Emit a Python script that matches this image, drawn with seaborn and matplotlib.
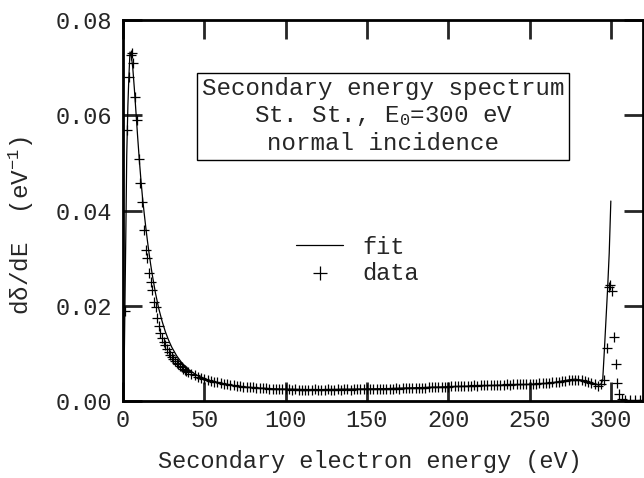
import numpy as np
import pandas as pd
import matplotlib
matplotlib.use("Agg")
import matplotlib.pyplot as plt
import seaborn as sns

# fit curve (eV, 1/eV)
fit_energy = [0, 0.6, 1.2, 1.8, 2.3, 3, 3.6, 4.3, 5, 6, 7, 8, 9, 10, 11, 12, 13, 14, 15,
              16, 17, 18, 20, 22, 24, 26, 28, 30, 33, 36, 40, 45, 50, 55, 60, 70, 80,
              90, 100, 120, 140, 160, 180, 200, 220, 240, 250, 260, 265, 270, 275, 278,
              282, 286, 290, 293, 294, 295, 296, 297, 298, 299, 300]
fit_value = [0.0, 0.004, 0.0206, 0.037, 0.0517, 0.062, 0.068, 0.0733, 0.0728, 0.0700,
             0.0655, 0.0605, 0.0555, 0.0508, 0.0465, 0.0427, 0.0395, 0.0365, 0.0337,
             0.0311, 0.0287, 0.0265, 0.0226, 0.0194, 0.0168, 0.0146, 0.0128, 0.0113,
             0.0095, 0.0081, 0.0067, 0.0055, 0.0047, 0.0041, 0.0037, 0.0031, 0.0028,
             0.0026, 0.0025, 0.0024, 0.0025, 0.0026, 0.0028, 0.0030, 0.0032, 0.0034,
             0.0035, 0.0037, 0.0039, 0.0042, 0.0045, 0.0046, 0.0044, 0.0040, 0.0035,
             0.0034, 0.0036, 0.0044, 0.0105, 0.0170, 0.0235, 0.0310, 0.0420]

# measured points, low energy part
low_energy = [1.2, 2.5, 3.7, 4.9, 5.5, 6.1, 7.4, 8.6, 9.6, 10.6, 11.6, 13, 14, 15, 16,
              17, 18, 19, 20, 21, 22, 23, 24, 25, 26, 27, 28, 29, 30, 31, 32, 33, 34,
              35, 36, 37, 38, 39, 40, 42, 44, 46, 48, 50]
low_value = [0.019, 0.057, 0.068, 0.0727, 0.0730, 0.0710, 0.0638, 0.0590, 0.0508,
             0.0457, 0.0418, 0.0359, 0.0317, 0.0300, 0.0269, 0.0250, 0.0233, 0.0208,
             0.0197, 0.0175, 0.0158, 0.0143, 0.0133, 0.0124, 0.0117, 0.0110, 0.0103,
             0.0097, 0.0092, 0.0088, 0.0084, 0.0080, 0.0077, 0.0074, 0.0071, 0.0068,
             0.0066, 0.0063, 0.0061, 0.0057, 0.0054, 0.0051, 0.0048, 0.0046]

# measured points, 52..292 eV every 2 eV
mid_energy = list(range(52, 293, 2))
mid_value = [0.0044, 0.0042, 0.0040, 0.0039, 0.0037, 0.0036, 0.0035, 0.0034, 0.0033, 0.0032,
             0.0031, 0.0030, 0.0030, 0.0029, 0.0029, 0.0028, 0.0028, 0.0027, 0.0027, 0.0026,
             0.0026, 0.0026, 0.0025, 0.0025, 0.0025, 0.0025, 0.0024, 0.0025, 0.0024, 0.0024,
             0.0024, 0.0024, 0.0024, 0.0025, 0.0024, 0.0024, 0.0024, 0.0025, 0.0024, 0.0024,
             0.0025, 0.0024, 0.0025, 0.0025, 0.0024, 0.0025, 0.0025, 0.0025, 0.0025, 0.0025,
             0.0025, 0.0026, 0.0025, 0.0026, 0.0026, 0.0026, 0.0026, 0.0026, 0.0027, 0.0026,
             0.0027, 0.0027, 0.0027, 0.0027, 0.0028, 0.0028, 0.0028, 0.0028, 0.0029, 0.0029,
             0.0029, 0.0029, 0.0030, 0.0030, 0.0030, 0.0031, 0.0031, 0.0031, 0.0031, 0.0032,
             0.0032, 0.0032, 0.0033, 0.0032, 0.0033, 0.0033, 0.0033, 0.0034, 0.0033, 0.0034,
             0.0034, 0.0034, 0.0035, 0.0034, 0.0035, 0.0035, 0.0035, 0.0036, 0.0035, 0.0036,
             0.0036, 0.0036, 0.0037, 0.0037, 0.0037, 0.0038, 0.0039, 0.0040, 0.0041, 0.0042,
             0.0043, 0.0044, 0.0045, 0.0045, 0.0045, 0.0044, 0.0043, 0.0041, 0.0038, 0.0035,
             0.0032]

# measured points, elastic peak
peak_energy = [294, 296, 297.5, 299, 299.6, 300.6, 302, 303, 303.6, 305, 307, 309,
               312, 315, 318, 320]
peak_value = [0.0036, 0.0044, 0.0111, 0.0240, 0.0243, 0.0231, 0.0135, 0.0078, 0.0037,
              0.0015, 0.0005, 0.0003, 0.0002, 0.0002, 0.0002, 0.0002]

data = pd.DataFrame({
    "energy": low_energy + mid_energy + peak_energy,
    "value": low_value + mid_value + peak_value,
})
fit = pd.DataFrame({"energy": fit_energy, "value": fit_value})

x_ticks = [0, 50, 100, 150, 200, 250, 300]
y_ticks = [0.00, 0.02, 0.04, 0.06, 0.08]

sns.set_style("ticks")
plt.rcParams["font.family"] = ["Liberation Mono", "DejaVu Sans"]
plt.rcParams["mathtext.fontset"] = "custom"
plt.rcParams["mathtext.rm"] = "Liberation Mono"
plt.rcParams["mathtext.it"] = "Liberation Mono"
plt.rcParams["mathtext.bf"] = "Liberation Mono:bold"

fs = 17
fig = plt.figure(figsize=(6.44, 4.78), dpi=100)
ax = fig.add_axes([0.191, 0.161, 0.808, 0.797])

sns.lineplot(data=fit, x="energy", y="value", ax=ax, color="black", lw=0.9,
             sort=False, label="fit")
sns.scatterplot(data=data, x="energy", y="value", ax=ax, color="black", marker="+",
                s=50, linewidth=0.9, label="data", zorder=3)

ax.set_xlim(0, 320)
ax.set_ylim(0, 0.08)
ax.set_xticks(x_ticks)
ax.set_yticks(y_ticks)
ax.set_yticklabels([f"{v:.2f}" for v in y_ticks])
ax.tick_params(direction="in", length=14, width=2, top=True, right=True,
               labelsize=fs, pad=8)
ax.tick_params(axis="x", pad=6)
for sp in ax.spines.values():
    sp.set_linewidth(2)
    sp.set_color("black")

ax.set_xlabel("Secondary electron energy (eV)", fontsize=fs)
ax.set_ylabel("d\u03b4/dE  (eV$^{-1}$)", fontsize=fs + 0.5)
ax.xaxis.set_label_coords(0.475, -0.16)
ax.xaxis.label.set_va("center")
ax.yaxis.set_label_coords(-0.195, 0.462)
ax.yaxis.label.set_va("center")

ax.text(0.5, 0.748, "Secondary energy spectrum\nSt. St., E$_0$=300 eV\nnormal incidence",
        transform=ax.transAxes, ha="center", va="center", fontsize=17.4,
        linespacing=1.2, multialignment="center",
        bbox=dict(boxstyle="square,pad=0.2", fc="white", ec="black", lw=1))

ax.legend(loc="center left", bbox_to_anchor=(0.31, 0.37), frameon=False, fontsize=fs,
          handlelength=2.0, handletextpad=0.8, labelspacing=0.12, borderpad=0,
          markerscale=1.5)

fig.savefig("out.png", dpi=100)
